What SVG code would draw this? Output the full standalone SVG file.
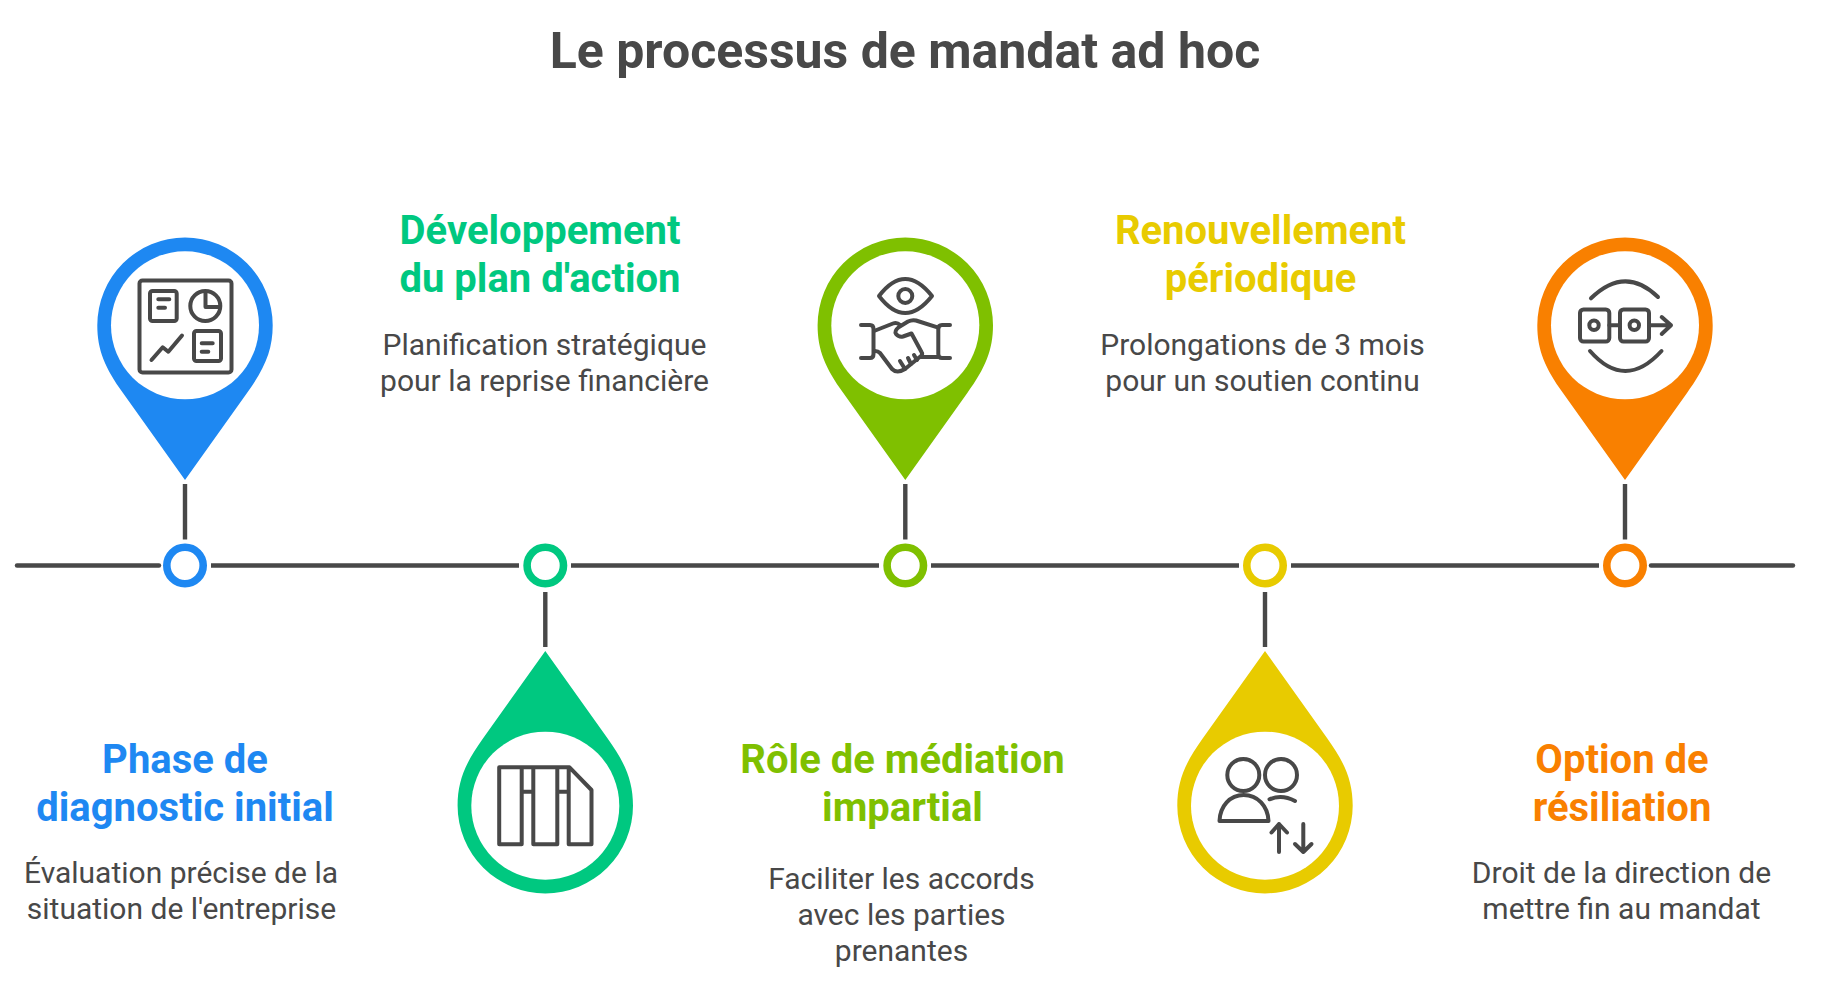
<svg xmlns="http://www.w3.org/2000/svg" width="1826" height="987" viewBox="0 0 1826 987">
<style>
text{font-family:Roboto,"Liberation Sans",sans-serif;text-anchor:middle}
.t{font-size:50px;font-weight:700;fill:#484848}
.h{font-size:40px;font-weight:700}
.b{font-size:30px;fill:#484848}
.ln{stroke:#484848;stroke-width:4.400;fill:none}
.ic{stroke:#484848;stroke-width:4;fill:none;stroke-linecap:round;stroke-linejoin:round}
.blue{fill:#1e88f2}.green{fill:#00c880}.lime{fill:#7fc000}.yellow{fill:#e8cb00}.orange{fill:#f98000}
</style>
<defs>
<path id="pin" d="M0 154.700L-62 67.700C-80 42.700-87.700 24.700-87.700 0A87.700 87.700 0 0 1 87.700 0C87.700 24.700 80 42.700 62 67.700Z"/>
</defs>
<rect width="1826" height="987" fill="#fff"/>
<text class="t" x="905" y="68">Le processus de mandat ad hoc</text>
<g id="connectors">
<path class="ln" stroke-linecap="round" d="M17 565.500H159"/>
<path class="ln" d="M211 565.500H519M571 565.500H879M931 565.500H1239M1291 565.500H1599"/>
<path class="ln" stroke-linecap="round" d="M1651 565.500H1793"/>
<path class="ln" d="M185 484V539.500M545.300 592V647M905.300 484V539.500M1265 592V647M1625 484V539.500"/>
</g>
<g id="node-1">
<use href="#pin" class="blue" x="185" y="325.300"/>
<circle cx="185" cy="325.300" r="74" fill="#fff"/>
<circle cx="185" cy="565.500" r="18.200" fill="#fff" stroke="#1e88f2" stroke-width="7.600"/>
<g class="ic">
<rect x="139.500" y="280.500" width="92" height="92" rx="3"/>
<rect x="150" y="291" width="26.700" height="30" rx="2.500"/>
<path d="M158.300 299.300H169.300M158.300 307.700H165"/>
<circle cx="205.300" cy="306" r="15"/>
<path d="M205.500 292V307H219"/>
<path d="M151.500 360L162.700 347.300L168.300 351.700L182 335.500"/>
<rect x="194" y="331" width="27" height="30" rx="2.500"/>
<path d="M201.700 343.300H212.700M201.700 351.700H208.300"/>
</g>
<text class="h blue" x="185" y="772.500">Phase de</text>
<text class="h blue" x="185" y="820.500">diagnostic initial</text>
<text class="b" x="181" y="883">Évaluation précise de la</text>
<text class="b" x="181.500" y="919">situation de l'entreprise</text>
</g>
<g id="node-2">
<use href="#pin" class="green" transform="translate(545.300 805.700) scale(1 -1)"/>
<circle cx="545.300" cy="805.700" r="74" fill="#fff"/>
<circle cx="545.300" cy="565.500" r="18.200" fill="#fff" stroke="#00c880" stroke-width="7.600"/>
<path class="ic" d="M521.700 767.300V844.300H499.200V767.300H569.500L591.500 790V844.300H568.700V767.300M533.300 767.300V844.300H557.300V767.300M521.700 791.700H533.300M557.300 791.700H568.700"/>
<text class="h green" x="540" y="243.500">Développement</text>
<text class="h green" x="540" y="291.500">du plan d'action</text>
<text class="b" x="544.500" y="355">Planification stratégique</text>
<text class="b" x="544.500" y="391">pour la reprise financière</text>
</g>
<g id="node-3">
<use href="#pin" class="lime" x="905.300" y="325.300"/>
<circle cx="905.300" cy="325.300" r="74" fill="#fff"/>
<circle cx="905.300" cy="565.500" r="18.200" fill="#fff" stroke="#7fc000" stroke-width="7.600"/>
<g class="ic">
<path d="M879 296Q905 262 932 296Q905 330 879 296Z"/>
<circle cx="905.300" cy="296" r="7"/>
<path d="M861 325H870Q873.500 325 873.500 329V354Q873.500 358 870 358H861"/>
<path d="M950 325H942Q938.300 325 938.300 329V354Q938.300 358 942 358H950"/>
<path d="M874 331L893 323.500Q897 322 900 325"/>
<path d="M938.300 327.700L916 320.500Q912 319.500 908 321.500L899 327Q894 331 896 334Q899 337.500 903 336.500L911.500 333.500L921.500 352Q923 354 921 356L905 369Q897 374 892 369L880 353Q878 351 875 351"/>
<path d="M921 357H938M905 369L900 361M911 364L908 358M917 360L914 355"/>
</g>
<text class="h lime" x="902.500" y="772.500">Rôle de médiation</text>
<text class="h lime" x="902.500" y="820.500">impartial</text>
<text class="b" x="901.500" y="889">Faciliter les accords</text>
<text class="b" x="901.500" y="925">avec les parties</text>
<text class="b" x="901.500" y="961">prenantes</text>
</g>
<g id="node-4">
<use href="#pin" class="yellow" transform="translate(1265 805.700) scale(1 -1)"/>
<circle cx="1265" cy="805.700" r="74" fill="#fff"/>
<circle cx="1265" cy="565.500" r="18.200" fill="#fff" stroke="#e8cb00" stroke-width="7.600"/>
<g class="ic">
<circle cx="1243.300" cy="775" r="16"/>
<circle cx="1281" cy="775" r="16"/>
<path d="M1219.500 821C1220 806 1230 795 1243.700 795C1257.500 795 1268 806 1268.500 821Z"/>
<path d="M1269.500 799.300Q1282 794 1295 801"/>
<path d="M1279 852V824M1271.500 832.500L1279 824L1287 832.500"/>
<path d="M1303.300 824V852M1295 844L1303.300 852L1311.500 844"/>
</g>
<text class="h yellow" x="1260.500" y="243.500">Renouvellement</text>
<text class="h yellow" x="1260.500" y="291.500">périodique</text>
<text class="b" x="1262.500" y="355">Prolongations de 3 mois</text>
<text class="b" x="1262.500" y="391">pour un soutien continu</text>
</g>
<g id="node-5">
<use href="#pin" class="orange" x="1625" y="325.300"/>
<circle cx="1625" cy="325.300" r="74" fill="#fff"/>
<circle cx="1625" cy="565.500" r="18.200" fill="#fff" stroke="#f98000" stroke-width="7.600"/>
<g class="ic">
<rect x="1580" y="309.500" width="29.300" height="32" rx="3.500"/>
<rect x="1620" y="309.500" width="29" height="32" rx="3.500"/>
<circle cx="1594" cy="325.300" r="4.700"/>
<circle cx="1634.300" cy="325.300" r="4.700"/>
<path d="M1609.300 325.300H1620M1649 325.300H1671M1661.700 317L1671 325.300L1661.700 334"/>
<path d="M1591 298.300Q1625 265 1658 297"/>
<path d="M1590 351Q1625 391 1661.500 351"/>
</g>
<text class="h orange" x="1622" y="772.500">Option de</text>
<text class="h orange" x="1622" y="820.500">résiliation</text>
<text class="b" x="1621.500" y="883">Droit de la direction de</text>
<text class="b" x="1621.500" y="919">mettre fin au mandat</text>
</g>
</svg>
